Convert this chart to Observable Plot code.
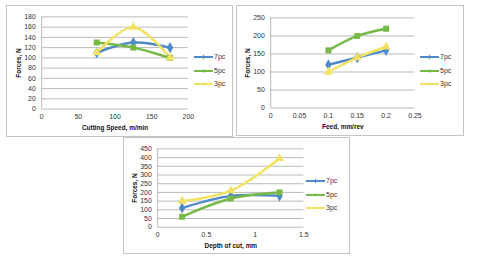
<!DOCTYPE html>
<html><head><meta charset="utf-8">
<script src="https://cdn.jsdelivr.net/npm/d3@7"></script>
<script src="https://cdn.jsdelivr.net/npm/@observablehq/plot@0.6"></script>
<style>
body{margin:0;background:#fff;font-family:"Liberation Sans",Arial,sans-serif;}
#root{position:relative;width:480px;height:262px;overflow:hidden;}
.frame{position:absolute;border:1px solid #c4c4c4;box-sizing:border-box;background:#fff;}
.frame svg{position:absolute;left:0;top:0;}
.legend{position:absolute;font-size:7px;color:#333;}
.legend .row{position:relative;height:13.5px;}
</style></head><body><div id="root"></div>
<script>
const seriesNames = ["7pc", "5pc", "3pc"];
const seriesColors = ["#4f8ac8", "#76b947", "#f1e262"];
const seriesSymbols = ["diamond", "square", "triangle"];

// Chart 1: Cutting speed
const speedX = [75, 125, 175];
const speed7pc = [110, 130, 120];
const speed5pc = [130, 120, 100];
const speed3pc = [110, 160, 100];
const speedXTicks = [0, 50, 100, 150, 200];
const speedYTicks = [0, 20, 40, 60, 80, 100, 120, 140, 160, 180];

// Chart 2: Feed
const feedX = [0.1, 0.15, 0.2];
const feed7pc = [120, 140, 160];
const feed5pc = [160, 200, 220];
const feed3pc = [100, 140, 170];
const feedXTicks = [0, 0.05, 0.1, 0.15, 0.2, 0.25];
const feedYTicks = [0, 50, 100, 150, 200, 250];

// Chart 3: Depth of cut
const depthX = [0.25, 0.75, 1.25];
const depth7pc = [110, 180, 180];
const depth5pc = [60, 165, 200];
const depth3pc = [150, 210, 395];
const depthXTicks = [0, 0.5, 1, 1.5];
const depthYTicks = [0, 50, 100, 150, 200, 250, 300, 350, 400, 450];

const charts = [
  {left:6, top:5, w:227, h:132, ml:34.5, mr:44.5, mt:10.5, mb:28.5,
   xs:speedX, ys:[speed7pc,speed5pc,speed3pc], xd:[0,200], yd:[0,180], xt:speedXTicks, yt:speedYTicks,
   xfmt:d=>String(d), xl:"Cutting Speed, m/min", leg:{x:187, y:46}},
  {left:236, top:5, w:228, h:131, ml:33.5, mr:49, mt:11.5, mb:28.5,
   xs:feedX, ys:[feed7pc,feed5pc,feed3pc], xd:[0,0.25], yd:[0,250], xt:feedXTicks, yt:feedYTicks,
   xfmt:d=>String(d), xl:"Feed, mm/rev", leg:{x:183, y:46}},
  {left:123, top:137, w:227, h:117, ml:33.5, mr:46, mt:10.5, mb:27.5,
   xs:depthX, ys:[depth7pc,depth5pc,depth3pc], xd:[0,1.5], yd:[0,450], xt:depthXTicks, yt:depthYTicks,
   xfmt:d=>String(d), xl:"Depth of cut, mm", leg:{x:182, y:38}}
];

const root = document.getElementById("root");
for (const c of charts) {
  const rows = [];
  c.ys.forEach((vals, si) => vals.forEach((v, i) => rows.push({x: c.xs[i], y: v, s: seriesNames[si]})));
  const frame = document.createElement("div");
  frame.className = "frame";
  Object.assign(frame.style, {left:c.left+"px", top:c.top+"px", width:c.w+"px", height:c.h+"px"});
  const plot = Plot.plot({
    width: c.w, height: c.h,
    marginLeft: c.ml, marginRight: c.mr, marginTop: c.mt, marginBottom: c.mb,
    style: {fontFamily: "'Liberation Sans', Arial, sans-serif", fontSize: "7px", color: "#333", background: "transparent"},
    x: {domain: c.xd},
    y: {domain: c.yd},
    color: {domain: seriesNames, range: seriesColors},
    symbol: {domain: seriesNames, range: seriesSymbols},
    marks: [
      Plot.gridY(c.yt, {stroke: "#b9b9b9", strokeOpacity: 1, strokeWidth: 1}),
      Plot.ruleX([c.xd[0]], {stroke: "#b9b9b9"}),
      Plot.axisY(c.yt, {tickSize: 0, tickPadding: 6, label: "Forces, N", labelAnchor: "center", labelArrow: "none", labelOffset: 26, fontWeight: "normal"}),
      Plot.axisX(c.xt, {tickSize: 0, tickPadding: 5, tickFormat: c.xfmt, label: c.xl, labelAnchor: "center", labelArrow: "none", labelOffset: 21}),
      Plot.line(rows, {x: "x", y: "y", z: "s", stroke: "s", strokeWidth: 2.5, curve: "catmull-rom"}),
      Plot.dot(rows, {x: "x", y: "y", fill: "s", symbol: "s", r: 3.4, stroke: "none"})
    ]
  });
  // bold axis titles
  plot.querySelectorAll("[aria-label='y-axis label'] text, [aria-label='x-axis label'] text").forEach(t => {
    t.setAttribute("font-weight", "bold"); t.setAttribute("font-size", "6.5"); t.setAttribute("fill", "#111");
  });
  frame.appendChild(plot);
  // legend
  const leg = document.createElement("div");
  leg.className = "legend";
  Object.assign(leg.style, {left: c.leg.x + "px", top: c.leg.y + "px"});
  seriesNames.forEach((n, i) => {
    const row = document.createElement("div");
    row.className = "row";
    const svg = d3.create("svg").attr("width", 19).attr("height", 10).style("position","absolute").style("left","0px").style("top","0px");
    svg.append("line").attr("x1", 0).attr("x2", 19).attr("y1", 5).attr("y2", 5).attr("stroke", seriesColors[i]).attr("stroke-width", 2);
    const sym = {diamond: d3.symbolDiamond, square: d3.symbolSquare, triangle: d3.symbolTriangle}[seriesSymbols[i]];
    svg.append("path").attr("transform", "translate(9.5,5)").attr("d", d3.symbol(sym, 7)()).attr("fill", seriesColors[i]);
    row.appendChild(svg.node());
    const lab = document.createElement("span");
    lab.textContent = n;
    Object.assign(lab.style, {position:"absolute", left:"20px", top:"1px", lineHeight:"8px"});
    row.appendChild(lab);
    leg.appendChild(row);
  });
  frame.appendChild(leg);
  root.appendChild(frame);
}
</script></body></html>
